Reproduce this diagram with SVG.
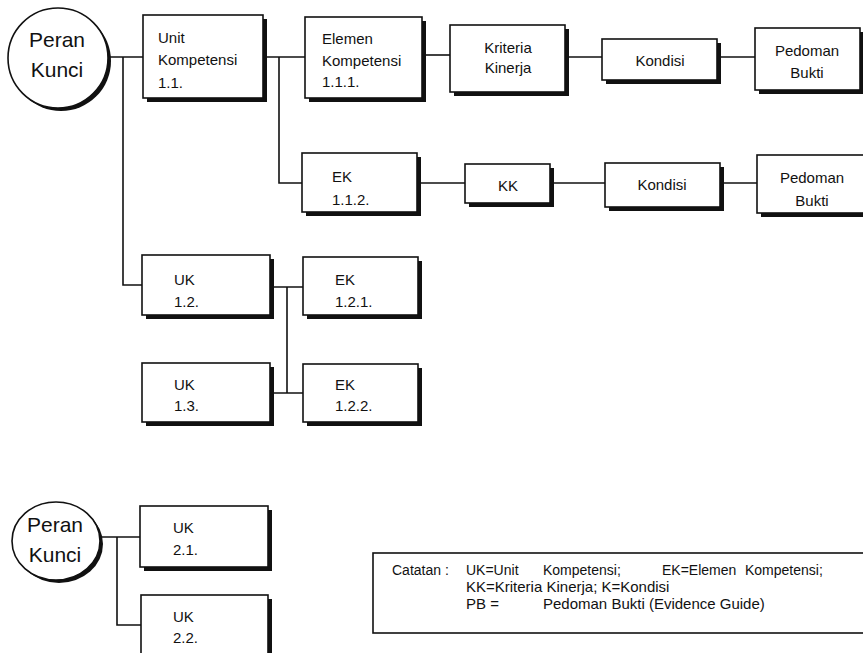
<svg xmlns="http://www.w3.org/2000/svg" width="863" height="653" viewBox="0 0 863 653">
<style>
.bg{fill:#ffffff}
.sh{fill:#111111}
.bx{fill:#ffffff;stroke:#111111;stroke-width:1.6}
.ln{fill:none;stroke:#111111;stroke-width:1.6}
text{font-family:"Liberation Sans",Arial,sans-serif;fill:#111111}
.t{font-size:15px}
.c{font-size:15px;text-anchor:middle}
.k{font-size:21px;text-anchor:middle}
.n{font-size:15px}
.ns{font-size:14px}
</style>
<rect class="bg" x="0" y="0" width="863" height="653"/>
<g id="connectors">
<path class="ln" d="M108,57 H143"/>
<path class="ln" d="M123,57 V285 H142"/>
<path class="ln" d="M263,57 H305"/>
<path class="ln" d="M279,57 V183 H302"/>
<path class="ln" d="M422,55 H450"/>
<path class="ln" d="M565,57 H602"/>
<path class="ln" d="M717,57 H755"/>
<path class="ln" d="M417,183 H465"/>
<path class="ln" d="M550,183 H605"/>
<path class="ln" d="M720,183 H757"/>
<path class="ln" d="M270,287 H303"/>
<path class="ln" d="M287,287 V393"/>
<path class="ln" d="M270,393 H303"/>
<path class="ln" d="M100,537 H140"/>
<path class="ln" d="M117,537 V625 H141"/>
</g>
<g id="peran1">
<circle class="sh" cx="61" cy="61" r="50"/>
<circle class="bx" cx="58" cy="58" r="50"/>
<text class="k" x="57" y="47">Peran</text>
<text class="k" x="57" y="77">Kunci</text>
</g>
<g id="uk11">
<rect class="sh" x="147" y="19" width="120" height="83"/>
<rect class="bx" x="143" y="15" width="120" height="83"/>
<text class="t" x="158" y="43">Unit</text>
<text class="t" x="158" y="65">Kompetensi</text>
<text class="t" x="158" y="88">1.1.</text>
</g>
<g id="ek111">
<rect class="sh" x="309" y="21" width="117" height="81"/>
<rect class="bx" x="305" y="17" width="117" height="81"/>
<text class="t" x="322" y="44">Elemen</text>
<text class="t" x="322" y="66">Kompetensi</text>
<text class="t" x="322" y="87">1.1.1.</text>
</g>
<g id="kk1">
<rect class="sh" x="454" y="29" width="115" height="67"/>
<rect class="bx" x="450" y="25" width="115" height="67"/>
<text class="c" x="508" y="53">Kriteria</text>
<text class="c" x="508" y="73">Kinerja</text>
</g>
<g id="kondisi1">
<rect class="sh" x="606" y="43" width="115" height="41"/>
<rect class="bx" x="602" y="39" width="115" height="41"/>
<text class="c" x="660" y="66">Kondisi</text>
</g>
<g id="pb1">
<rect class="sh" x="759" y="32" width="105" height="62"/>
<rect class="bx" x="755" y="28" width="105" height="62"/>
<text class="c" x="807" y="56">Pedoman</text>
<text class="c" x="807" y="78">Bukti</text>
</g>
<g id="ek112">
<rect class="sh" x="306" y="157" width="115" height="59"/>
<rect class="bx" x="302" y="153" width="115" height="59"/>
<text class="t" x="332" y="182">EK</text>
<text class="t" x="332" y="205">1.1.2.</text>
</g>
<g id="kk2">
<rect class="sh" x="469" y="168" width="85" height="39"/>
<rect class="bx" x="465" y="164" width="85" height="39"/>
<text class="c" x="508" y="191">KK</text>
</g>
<g id="kondisi2">
<rect class="sh" x="609" y="167" width="115" height="44"/>
<rect class="bx" x="605" y="163" width="115" height="44"/>
<text class="c" x="662" y="190">Kondisi</text>
</g>
<g id="pb2">
<rect class="sh" x="761" y="159" width="110" height="58"/>
<rect class="bx" x="757" y="155" width="110" height="58"/>
<text class="c" x="812" y="183">Pedoman</text>
<text class="c" x="812" y="206">Bukti</text>
</g>
<g id="uk12">
<rect class="sh" x="146" y="259" width="128" height="60"/>
<rect class="bx" x="142" y="255" width="128" height="60"/>
<text class="t" x="174" y="285">UK</text>
<text class="t" x="174" y="307">1.2.</text>
</g>
<g id="ek121">
<rect class="sh" x="307" y="261" width="115" height="58"/>
<rect class="bx" x="303" y="257" width="115" height="58"/>
<text class="t" x="335" y="285">EK</text>
<text class="t" x="335" y="307">1.2.1.</text>
</g>
<g id="uk13">
<rect class="sh" x="146" y="367" width="128" height="59"/>
<rect class="bx" x="142" y="363" width="128" height="59"/>
<text class="t" x="174" y="390">UK</text>
<text class="t" x="174" y="411">1.3.</text>
</g>
<g id="ek122">
<rect class="sh" x="307" y="368" width="115" height="58"/>
<rect class="bx" x="303" y="364" width="115" height="58"/>
<text class="t" x="335" y="390">EK</text>
<text class="t" x="335" y="411">1.2.2.</text>
</g>
<g id="peran2">
<ellipse class="sh" cx="59" cy="544" rx="44" ry="39"/>
<ellipse class="bx" cx="56" cy="541" rx="44" ry="39"/>
<text class="k" x="55" y="532">Peran</text>
<text class="k" x="55" y="562">Kunci</text>
</g>
<g id="uk21">
<rect class="sh" x="144" y="510" width="128" height="61"/>
<rect class="bx" x="140" y="506" width="128" height="61"/>
<text class="t" x="173" y="533">UK</text>
<text class="t" x="173" y="555">2.1.</text>
</g>
<g id="uk22">
<rect class="sh" x="145" y="599" width="127" height="60"/>
<rect class="bx" x="141" y="595" width="127" height="60"/>
<text class="t" x="173" y="622">UK</text>
<text class="t" x="173" y="643">2.2.</text>
</g>
<g id="catatan">
<rect class="bx" x="373" y="553" width="500" height="80"/>
<text class="ns" x="392" y="575">Catatan :</text>
<text class="ns" x="466" y="575">UK=Unit</text>
<text class="ns" x="543" y="575">Kompetensi;</text>
<text class="ns" x="662" y="575">EK=Elemen</text>
<text class="ns" x="745" y="575">Kompetensi;</text>
<text class="n" x="466" y="592">KK=Kriteria Kinerja; K=Kondisi</text>
<text class="n" x="466" y="609">PB =</text>
<text class="n" x="543" y="609">Pedoman Bukti (Evidence Guide)</text>
</g>
</svg>
